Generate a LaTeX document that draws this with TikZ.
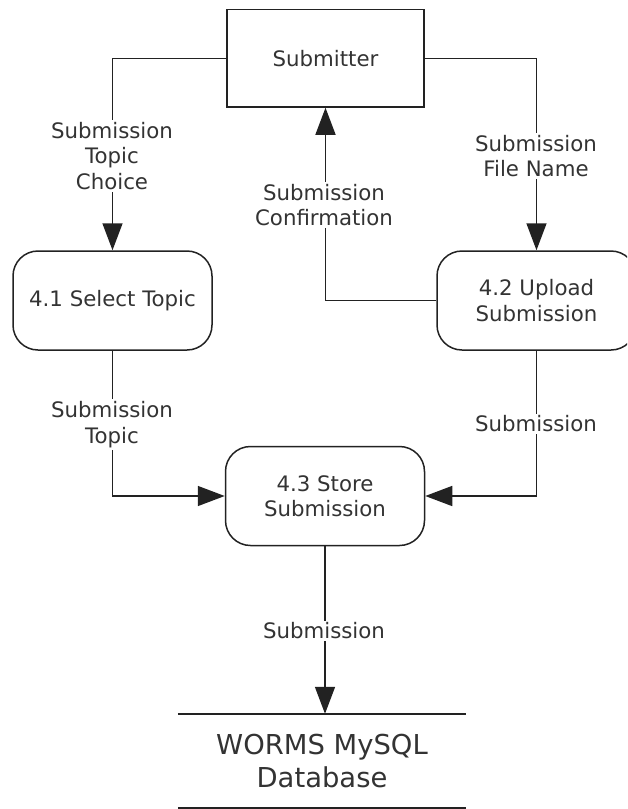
\documentclass[tikz,border=0pt]{standalone}
\usepackage{fontspec}
\setmainfont{DejaVu Sans}
\usetikzlibrary{arrows.meta}
\definecolor{ink}{HTML}{222222}
\definecolor{txt}{HTML}{333333}
\begin{document}
\begin{tikzpicture}[x=1pt,y=-1pt,
  every node/.style={text=txt,font=\fontsize{21.3}{25.5}\selectfont},
  ent/.style={draw=ink,line width=1.5pt,minimum width=197pt,minimum height=97.5pt,inner sep=0pt,align=center},
  proc/.style={draw=ink,line width=1.5pt,rounded corners=25pt,minimum width=199pt,minimum height=99pt,inner sep=0pt,align=center},
  store/.style={minimum width=288pt,minimum height=94pt,inner sep=0pt,align=center,font=\fontsize{27.4}{33}\selectfont},
  flow/.style={draw=ink,line width=1.5pt,-{Triangle[length=27pt,width=20pt]}},
  lbl/.style={fill=white,inner sep=2pt,align=center}]
\useasboundingbox (0,0) rectangle (627,809);
\clip (0,0) rectangle (627,809);
\node[ent] (sub) at (325.5,58.25) {Submitter};
\node[proc] (p41) at (112.5,300.5) {4.1 Select Topic};
\node[proc] (p42) at (536.5,300.5) {4.2 Upload\\Submission};
\node[proc] (p43) at (325,496) {4.3 Store\\Submission};
\node[store] (db) at (322,761) {WORMS MySQL\\Database};
\draw[draw=ink,line width=1.5pt] (db.north west) -- (db.north east);
\draw[draw=ink,line width=1.5pt] (db.south west) -- (db.south east);
\draw[flow] (sub.west) -| (p41.north);
\draw[flow] (sub.east) -| (p42.north);
\draw[flow] (p42.west) -| (sub.south);
\draw[flow] (p41.south) |- (p43.west);
\draw[flow] (p42.south) |- (p43.east);
\draw[flow] (p43.south) -- (p43.south |- db.north);
\node[lbl] (l1) at (112,156) {Submission\\Topic\\Choice};
\node[lbl] (l2) at (536,156) {Submission\\File Name};
\node[lbl] (l3) at (324,205) {Submission\\Confirmation};
\node[lbl] (l4) at (112,424.5) {Submission\\Topic};
\node[lbl] (l5) at (536,424) {Submission};
\node[lbl] (l6) at (324,631) {Submission};
\end{tikzpicture}
\end{document}
